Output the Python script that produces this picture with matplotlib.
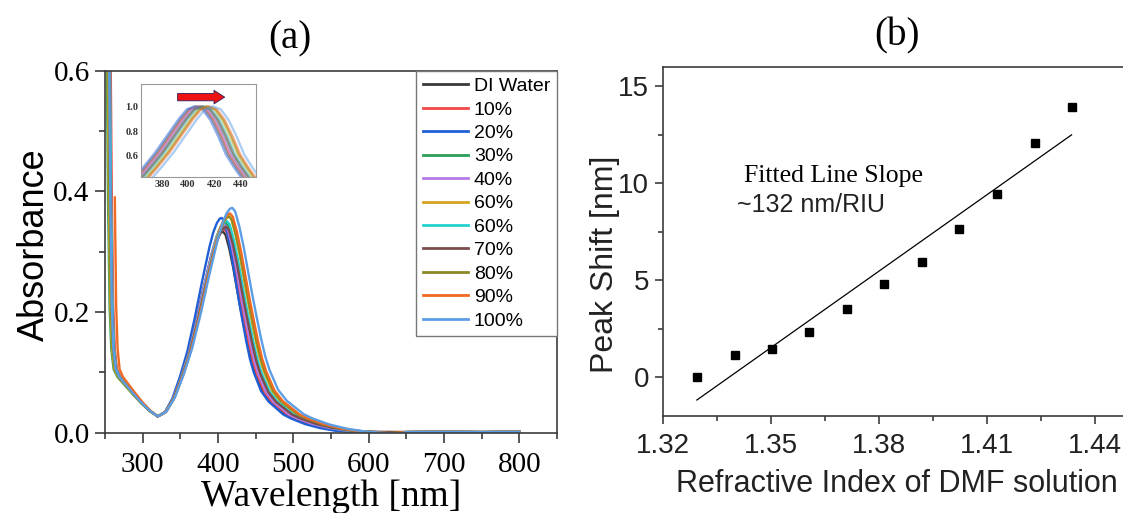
import numpy as np
import matplotlib
matplotlib.use("Agg")
import matplotlib.pyplot as plt
from matplotlib.ticker import MultipleLocator, FormatStrFormatter

SERIF = "Liberation Serif"
SANS = "Liberation Sans"

# ---- panel (a): UV-vis spectra ----
labels = ["DI Water", "10%", "20%", "30%", "40%", "60%", "60%", "70%", "80%", "90%", "100%"]
colors = ["#3a3a3a", "#f04848", "#1f5fd6", "#2a9e5a", "#b57ae6", "#d4a51c",
          "#22d2d2", "#7a4e4e", "#8c8a22", "#f06a22", "#5c9ee6"]
# peak position [nm] and peak absorbance
peak_wl = [406.7, 408, 405, 410, 409, 414, 412, 411, 415, 416, 419]
peak_abs = [0.333, 0.338, 0.358, 0.350, 0.345, 0.362, 0.352, 0.342, 0.360, 0.366, 0.376]
# wavelength where the UV edge crosses ~0.4
edge_wl = [258, 259, 256, 254, 257, 255, 258, 257, 256, 263, 257]
# first recorded wavelength
start_wl = [240, 240, 240, 240, 240, 240, 240, 240, 240, 262, 240]

# DI water spectrum, read at these wavelengths
base_wl = [252, 255, 258, 260, 262, 265, 270, 280, 290, 300, 310, 320, 330, 340,
           350, 360, 370, 380, 390, 395, 400, 404, 406.7, 410, 415, 420, 425, 430,
           435, 440, 445, 450, 460, 470, 480, 490, 500, 520, 540, 560, 580, 600,
           650, 700, 750, 800]
base_abs = [1.2, 0.85, 0.39, 0.21, 0.14, 0.105, 0.092, 0.077, 0.062, 0.048, 0.036,
            0.027, 0.034, 0.055, 0.088, 0.127, 0.178, 0.235, 0.288, 0.310, 0.325,
            0.332, 0.333, 0.328, 0.305, 0.275, 0.240, 0.205, 0.173, 0.142, 0.115,
            0.095, 0.066, 0.050, 0.040, 0.030, 0.024, 0.015, 0.009, 0.005, 0.003,
            0.0015, 0.001, 0.0015, 0.001, 0.0015]

# inset: normalised band around each peak
inset_off = [-50, -40, -30, -20, -12, -6, 0, 6, 12, 18, 24, 30, 36, 42]
inset_val = [0.38, 0.50, 0.63, 0.78, 0.90, 0.975, 1.0, 0.975, 0.89, 0.76, 0.61, 0.51, 0.42, 0.34]

# ---- panel (b): peak shift vs refractive index ----
ri = [1.3294, 1.3399, 1.3502, 1.3606, 1.3710, 1.3815, 1.3919, 1.4023, 1.4128, 1.4232, 1.4335]
shift = [0.0, 1.13, 1.44, 2.34, 3.54, 4.83, 5.95, 7.62, 9.47, 12.06, 13.95]

fig = plt.figure(figsize=(11.23, 5.13), dpi=100)
spine_c = "#3c3c3c"

# ---------------- (a) ----------------
ax = fig.add_axes([0.0935, 0.1565, 0.4025, 0.7057])
bw = np.array(base_wl, dtype=float)
ba = np.array(base_abs)
p0, h0, e0, amin = 406.7, 0.333, 258.0, 0.027
for i in range(len(labels)):
    k = (peak_wl[i] - 320) / (p0 - 320)
    m = (320 - edge_wl[i]) / (320 - e0)
    x = np.where(bw >= 320, 320 + (bw - 320) * k, 320 - (320 - bw) * m)
    x = np.where(bw >= 650, bw, x)   # flat tail is not shifted
    y = np.where(bw >= 320, amin + (ba - amin) * peak_abs[i] / h0, ba)
    y = np.where(bw >= 650, ba, y)
    keep = x >= start_wl[i]
    ax.plot(x[keep], y[keep], color=colors[i], lw=1.7, label=labels[i])

ax.set_xlim(250, 850)
ax.set_ylim(0, 0.6)
ax.xaxis.set_major_locator(MultipleLocator(100))
ax.xaxis.set_minor_locator(MultipleLocator(50))
ax.yaxis.set_major_locator(MultipleLocator(0.2))
ax.yaxis.set_minor_locator(MultipleLocator(0.1))
ax.yaxis.set_major_formatter(FormatStrFormatter("%.1f"))
ax.tick_params(which="major", direction="out", length=7, width=1.2, color=spine_c,
               labelsize=21, pad=4)
ax.tick_params(which="minor", direction="out", length=4, width=1.2, color=spine_c)
ax.tick_params(axis="x", which="major", pad=7)
for t in ax.get_xticklabels() + ax.get_yticklabels():
    t.set_fontfamily(SERIF)
for s in ax.spines.values():
    s.set_color(spine_c)
    s.set_linewidth(1.2)
ax.set_xlabel("Wavelength [nm]", fontfamily=SERIF, fontsize=27)
ax.xaxis.set_label_coords(0.5, -0.128)
ax.set_ylabel("Absorbance", fontfamily=SANS, fontsize=26)
ax.yaxis.set_label_coords(-0.117, 0.52)

leg = ax.legend(loc="upper right", bbox_to_anchor=(1.0, 1.0), borderaxespad=0,
                prop={"family": SANS, "size": 14}, handlelength=2.3,
                handletextpad=0.3, labelspacing=0.3, borderpad=0.35,
                fancybox=False, framealpha=1)
leg.get_frame().set_edgecolor("#777777")
leg.get_frame().set_linewidth(1.0)
for h in leg.get_lines():
    h.set_linewidth(2.0)

fig.text(0.258, 0.925, "(a)", fontfamily=SERIF, fontsize=28, ha="center", va="center")

# inset
axi = fig.add_axes([0.1256, 0.655, 0.1024, 0.1813])
for i in range(len(labels)):
    axi.plot(np.array(inset_off) + peak_wl[i], inset_val, color=colors[i], lw=1.7, alpha=0.5)
axi.set_xlim(364, 452)
axi.set_ylim(0.43, 1.18)
axi.set_xticks([380, 400, 420, 440])
axi.set_yticks([0.6, 0.8, 1.0])
axi.yaxis.set_major_formatter(FormatStrFormatter("%.1f"))
axi.tick_params(length=0, labelsize=7.5, pad=2, colors="#333333")
for t in axi.get_xticklabels() + axi.get_yticklabels():
    t.set_fontfamily(SERIF)
    t.set_fontweight("bold")
for s in axi.spines.values():
    s.set_color("#999999")
    s.set_linewidth(0.8)
axi.annotate("", xy=(428, 1.074), xytext=(392, 1.074),
             arrowprops=dict(arrowstyle="simple,head_length=0.55,head_width=0.7,tail_width=0.38",
                             fc="#ee1111", ec="#302060", lw=0.6, mutation_scale=14,
                             shrinkA=0, shrinkB=0))

# ---------------- (b) ----------------
bx = fig.add_axes([0.5904, 0.1891, 0.4167, 0.6803])
bx.plot(ri, shift, "s", color="black", ms=5.5)
slope, icpt = np.polyfit(ri, shift, 1)
fx = np.array([ri[0], ri[-1]])
bx.plot(fx, slope * fx + icpt, color="black", lw=0.9)
bx.set_xlim(1.32, 1.45)
bx.set_ylim(-2, 16)
bx.xaxis.set_major_locator(MultipleLocator(0.03))
bx.xaxis.set_minor_locator(MultipleLocator(0.015))
bx.xaxis.set_major_formatter(FormatStrFormatter("%.2f"))
bx.yaxis.set_major_locator(MultipleLocator(5))
bx.yaxis.set_minor_locator(MultipleLocator(2.5))
bx.tick_params(which="major", direction="out", length=6, width=1.2, color=spine_c,
               labelsize=20, pad=4, labelcolor="#222222")
bx.tick_params(which="minor", direction="out", length=3.5, width=1.2, color=spine_c)
bx.tick_params(axis="x", which="major", pad=6)
for t in bx.get_xticklabels() + bx.get_yticklabels():
    t.set_fontfamily(SANS)
for s in bx.spines.values():
    s.set_color(spine_c)
    s.set_linewidth(1.2)
bx.set_xlabel("Refractive Index of DMF solution", fontfamily=SANS, fontsize=22, color="#222222")
bx.xaxis.set_label_coords(0.5, -0.152)
bx.set_ylabel("Peak Shift [nm]", fontfamily=SANS, fontsize=23, color="#222222")
bx.yaxis.set_label_coords(-0.092, 0.435)
bx.text(1.3425, 10.36, "Fitted Line Slope", fontfamily=SERIF, fontsize=18.5, va="center")
bx.text(1.3405, 8.9, "~132 nm/RIU", fontfamily=SANS, fontsize=18, va="center", color="#222222")

fig.text(0.799, 0.93, "(b)", fontfamily=SERIF, fontsize=28, ha="center", va="center")

fig.savefig("out.png", dpi=100)
